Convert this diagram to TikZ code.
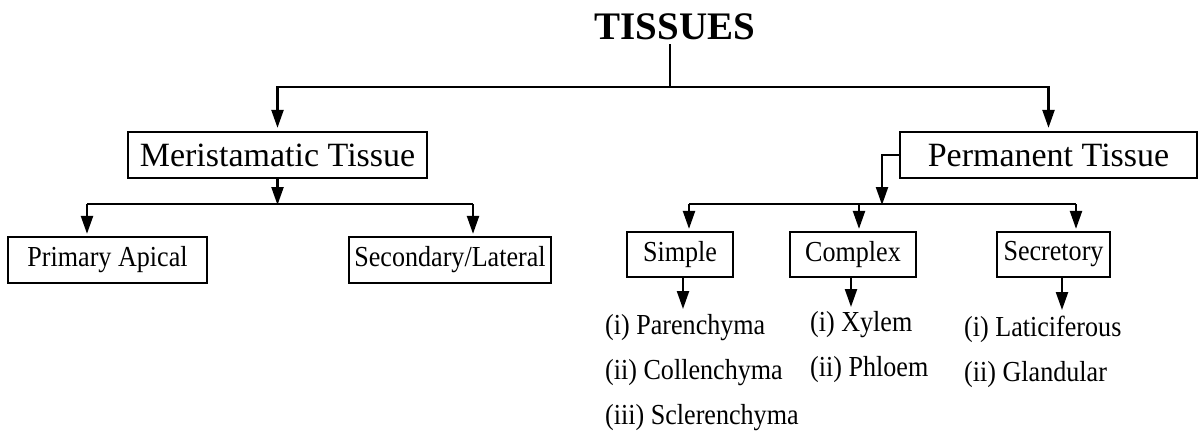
\documentclass[tikz,border=0pt]{standalone}
\usepackage{fontspec}
\setmainfont{Liberation Serif}
\newfontfamily\condfont[FakeStretch=0.9]{Liberation Serif}
\usetikzlibrary{arrows.meta}
\begin{document}
\begin{tikzpicture}[x=1pt,y=-1pt,
  line width=2.3pt,
  arr/.style={-{Triangle[length=18pt,width=12pt]}},
  bigbox/.style={draw,line width=2.3pt,inner sep=0pt,minimum height=46pt,font=\fontsize{34}{40}\selectfont},
  smallbox/.style={draw,line width=2.3pt,inner sep=0pt,minimum height=46pt,font=\condfont\fontsize{29}{36}\selectfont},
  listtext/.style={inner sep=0pt,anchor=base west,font=\condfont\fontsize{29}{36}\selectfont},
  titletext/.style={inner sep=0pt,anchor=base,font=\bfseries\fontsize{39}{44}\selectfont}]
\useasboundingbox (0,0) rectangle (1199,432);
% title
\node[titletext] (tis) at (675,39) {TISSUES};
% boxes
\node[bigbox,minimum width=299pt] (mer) at (277.5,155) {Meristamatic Tissue};
\node[bigbox,minimum width=297pt] (per) at (1048.5,155) {Permanent Tissue};
\node[smallbox,minimum width=199pt] (pri) at (107.5,260) {Primary Apical};
\node[smallbox,minimum width=202pt] (sec) at (450,260) {Secondary/Lateral};
\node[smallbox,minimum width=106pt,minimum height=45pt] (sim) at (680,254.5) {Simple};
\node[smallbox,minimum width=126pt,minimum height=45pt] (com) at (853,254.5) {Complex};
\node[smallbox,minimum width=113pt,minimum height=45pt] (scr) at (1053.5,254.5) {Secretory};
% lists
\node[listtext] (p1) at (604,334) {(i) Parenchyma};
\node[listtext] (p2) at (604,379) {(ii) Collenchyma};
\node[listtext] (p3) at (604,424) {(iii) Sclerenchyma};
\node[listtext] (x1) at (809,331) {(i) Xylem};
\node[listtext] (x2) at (809,376) {(ii) Phloem};
\node[listtext] (g1) at (963,336) {(i) Laticiferous};
\node[listtext] (g2) at (963,381) {(ii) Glandular};
% connectors top
\coordinate (t0) at (670,44);
\coordinate (j1) at (670,87);
\draw (t0) -- (j1);
\draw[arr,shorten >=3pt] (j1) -| (mer.north);
\draw[arr,shorten >=3pt] (j1) -| (per.north);
% meristematic branch
\coordinate (j2) at (277.5,205);
\coordinate (j2l) at (87,204);
\coordinate (j2r) at (473,204);
\draw[arr] (mer.south) -- (j2);
\draw (j2l) -- (j2r);
\draw[arr,shorten >=2pt] (j2l) -- (j2l |- pri.north);
\draw[arr,shorten >=2pt] (j2r) -- (j2r |- sec.north);
% permanent branch
\coordinate (k1) at (882,205);
\coordinate (k2l) at (689,204);
\coordinate (k2m) at (859,204);
\coordinate (k2r) at (1076,204);
\draw[arr] (per.west) -| (k1);
\draw (k2l) -- (k2r);
\draw[arr,shorten >=2pt] (k2l) -- (k2l |- sim.north);
\draw[arr,shorten >=2pt] (k2m) -- (k2m |- com.north);
\draw[arr,shorten >=2pt] (k2r) -- (k2r |- scr.north);
% arrows to lists
\coordinate (s1) at (683,309);
\coordinate (s2) at (851,307);
\coordinate (s3) at (1062,310);
\draw[arr] (s1 |- sim.south) -- (s1);
\draw[arr] (s2 |- com.south) -- (s2);
\draw[arr] (s3 |- scr.south) -- (s3);
\end{tikzpicture}
\end{document}
